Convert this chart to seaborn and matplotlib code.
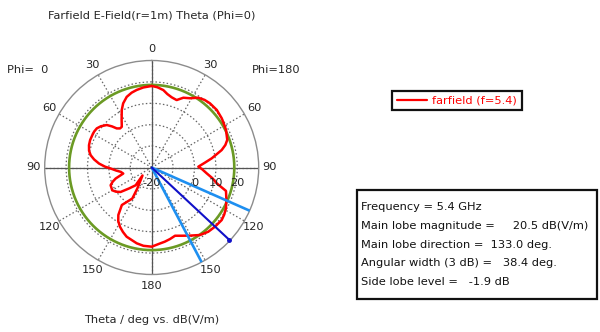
import numpy as np
import matplotlib
matplotlib.use("Agg")
import matplotlib.pyplot as plt
import seaborn as sns
from matplotlib.patches import Rectangle
from matplotlib.lines import Line2D

# ---------------- data ----------------
# polar angle in plot order (deg, clockwise from top; right half = Phi=180, left half = Phi=0)
curve_angle_deg = [0, 4, 8.5, 12, 15.9, 20.3, 24.4, 29, 33.7, 38, 42.2, 48.5, 54.9, 59, 63.2,
                   69.9, 73, 76, 81.3, 85, 89, 92, 96, 100, 103.7, 107.5, 113, 118.8, 123,
                   126.9, 133, 138.6, 144.4, 150.7, 156, 161.1, 165.6, 170, 173.7, 180, 186,
                   191.2, 199.9, 204, 208.2, 212, 215.1, 218.5, 212, 214.4, 229, 222.1, 227.2,
                   231.8, 236, 240, 246.7, 250, 253, 258, 262, 265, 268.6, 271, 274.3, 278,
                   281.4, 285, 289.6, 294, 298.5, 302, 305.5, 309, 313.4, 316, 318.2, 321,
                   323.7, 327.7, 332.5, 336, 340.5, 345, 349, 354, 360]
curve_db = [18.1, 17.6, 16.6, 15.1, 14.1, 13.6, 15.8, 17.0, 19.2, 20.1, 20.5, 20.6, 20.0, 19.4,
            18.9, 17.6, 16.0, 13.7, 8.4, 4.8, 1.8, 3.6, 5.8, 8.8, 11.3, 16.4, 17.9, 19.6, 20.4,
            20.9, 20.5, 20.0, 18.8, 16.5, 14.9, 13.7, 14.5, 15.2, 15.7, 17.0, 16.8,
            16.1, 14.4, 13.0, 11.4, 9.5, 7.1, 2.4, -2.9, -8.1, -14.3, -8.8, -5.6,
            -1.5, 0.2, 1.3, 0.9, -0.6, -2.4, -6.4, -5.4, -3.4, -0.8, 1.8, 4.7, 7.2,
            9.1, 10.3, 11.1, 11.5, 11.6, 11.7, 11.5, 10.6, 8.9, 6.7, 4.5, 3.5,
            3.6, 6.3, 10.3, 12.8, 15.0, 16.2, 16.9, 17.6, 18.1]

level_3db = 18.6            # green reference circle
main_dir = 133.0            # main lobe direction (deg)
ang_width = 38.4            # 3 dB angular width (deg)
r_min, r_max = -20, 30
r_ticks = [-10, 0, 10, 20]
r_tick_labels = ["-20", "0", "10", "20"]
r_label_vals = [-20, 0, 10, 20]
theta_ticks = list(range(0, 360, 30))
theta_labels = ["0", "30", "60", "90", "120", "150", "180", "150", "120", "90", "60", "30"]

info_lines = ["Frequency = 5.4 GHz",
              "Main lobe magnitude =     20.5 dB(V/m)",
              "Main lobe direction =  133.0 deg.",
              "Angular width (3 dB) =   38.4 deg.",
              "Side lobe level =   -1.9 dB"]
legend_label = "farfield (f=5.4)"

# ---------------- style ----------------
sns.set_style("white")
plt.rcParams["font.family"] = ["DejaVu Sans"]
FS = 8.2
txt_col = "#262626"

W, H = 600, 332
fig = plt.figure(figsize=(W / 100, H / 100), dpi=100)

cx, cy, R = 151.7, 167.5, 107.0
ax = fig.add_axes([(cx - R) / W, (H - cy - R) / H, 2 * R / W, 2 * R / H], projection="polar")
ax.set_facecolor("white")
ax.set_theta_zero_location("N")
ax.set_theta_direction(-1)
ax.set_ylim(r_min, r_max)

ax.set_rticks(r_ticks)
ax.set_yticklabels([])
ax.set_thetagrids(theta_ticks, theta_labels, fontsize=FS, color=txt_col)
ax.tick_params(axis="x", pad=-2.5)
ax.grid(True, color="#666666", linestyle=(0, (1.2, 1.8)), linewidth=0.9)
ax.spines["polar"].set_color("#8c8c8c")
ax.spines["polar"].set_linewidth(1.0)

# solid cross lines (0/180 and 90/270)
for a in [0, 90]:
    ax.axvline(np.deg2rad(a), color="#555555", lw=0.9, zorder=2)
    ax.axvline(np.deg2rad(a + 180), color="#555555", lw=0.9, zorder=2)

# radial labels just below the horizontal axis
for v, s in zip(r_label_vals, r_tick_labels):
    ax.annotate(s, xy=(np.deg2rad(90), v), xytext=(0, -15), textcoords="offset pixels",
                ha="center", va="center", fontsize=FS, color=txt_col, zorder=6)

# green -3 dB circle
circ_t = np.deg2rad(np.arange(0, 361, 1))
ax.plot(circ_t, np.full_like(circ_t, level_3db), color="#6b9a24", lw=1.9, zorder=3)

# red farfield curve
sns.lineplot(x=np.deg2rad(curve_angle_deg), y=curve_db, ax=ax, sort=False, estimator=None,
             color="#ff0000", lw=1.8, zorder=4)
ax.set_xlabel("")
ax.set_ylabel("")

# main lobe direction and 3 dB width lines
for a in [main_dir - ang_width / 2, main_dir + ang_width / 2]:
    ax.plot([np.deg2rad(a)] * 2, [r_min, r_max], color="#1e8ff0", lw=1.9, zorder=5,
            clip_on=False, solid_capstyle="butt")
ax.plot([np.deg2rad(main_dir)] * 2, [r_min, r_max - 0.5], color="#1010c8", lw=1.5, zorder=5,
        clip_on=False)
ax.plot([np.deg2rad(main_dir)], [r_max - 0.5], "o", color="#1010c8", ms=2.5, zorder=5,
        clip_on=False)

# ---------------- texts ----------------
def ftext(x, y, s, **kw):
    fig.text(x / W, 1 - y / H, s, fontsize=kw.pop("fontsize", FS), color=kw.pop("color", txt_col), **kw)

ftext(152, 15, "Farfield E-Field(r=1m) Theta (Phi=0)", ha="center", va="center")
ftext(28, 70, "Phi=  0", ha="center", va="center")
ftext(276, 70, "Phi=180", ha="center", va="center")
ftext(152, 320, "Theta / deg vs. dB(V/m)", ha="center", va="center")

# legend box
leg = fig.legend(handles=[Line2D([0], [0], color="#ff0000", lw=1.6)], labels=[legend_label],
                 loc="center", bbox_to_anchor=(457 / W, 1 - 100.5 / H), frameon=True,
                 fancybox=False, edgecolor="#111111", framealpha=1, fontsize=FS,
                 handlelength=2.6, handletextpad=0.5, borderpad=0.4, borderaxespad=0)
leg.get_frame().set_linewidth(1.6)
for t in leg.get_texts():
    t.set_color("#ff0000")

# info box
fig.patches.append(Rectangle((357 / W, 1 - 299 / H), 240 / W, 109 / H, transform=fig.transFigure,
                             fill=True, facecolor="white", edgecolor="#111111", lw=1.6))
for i, s in enumerate(info_lines):
    ftext(361, 207 + i * 18.8, s, ha="left", va="center", color="#111111")

fig.savefig("out.png", dpi=100)
